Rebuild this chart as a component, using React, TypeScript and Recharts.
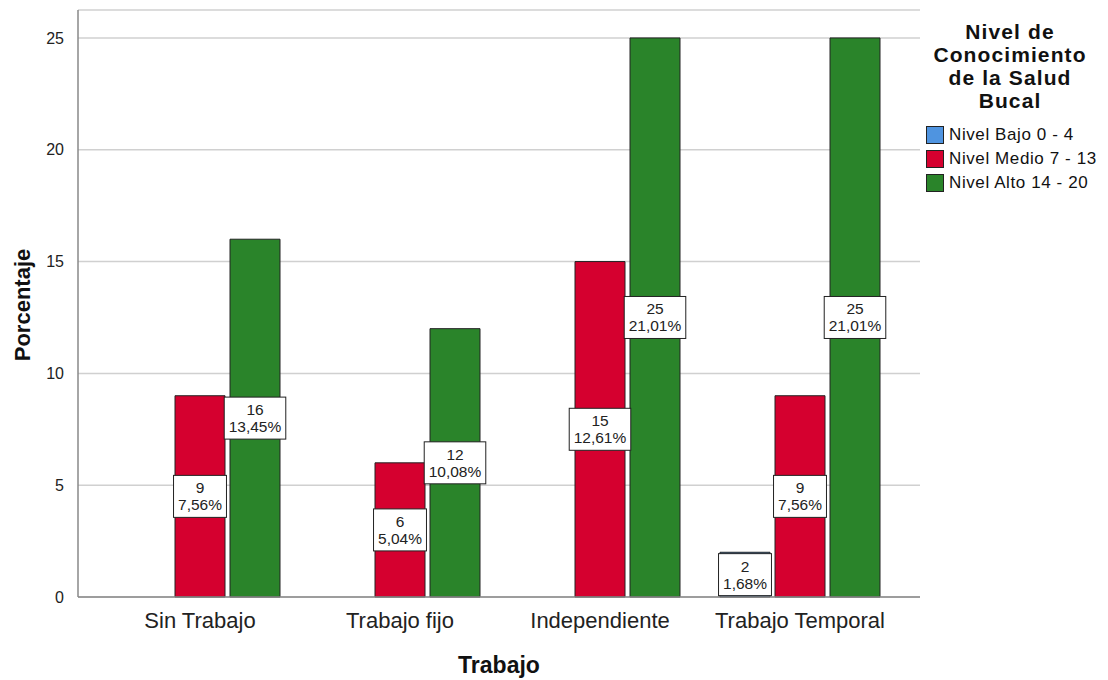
import React from 'react'
import { BarChart, Bar, CartesianGrid, XAxis, YAxis, LabelList, Label } from 'recharts'

const categorias = ['Sin Trabajo', 'Trabajo fijo', 'Independiente', 'Trabajo Temporal']
const bajo = [null, null, null, 2]
const medio = [9, 6, 15, 9]
const alto = [16, 12, 25, 25]
const bajoPct = ['', '', '', '1,68%']
const medioPct = ['7,56%', '5,04%', '12,61%', '7,56%']
const altoPct = ['13,45%', '10,08%', '21,01%', '21,01%']
const yTicks = [0, 5, 10, 15, 20, 25]

const series = [
  { key: 'bajo', name: 'Nivel Bajo 0 - 4', color: '#4f94e0', vals: bajo, pct: bajoPct },
  { key: 'medio', name: 'Nivel Medio 7 - 13', color: '#d5002f', vals: medio, pct: medioPct },
  { key: 'alto', name: 'Nivel Alto 14 - 20', color: '#2a842a', vals: alto, pct: altoPct },
]

const data = categorias.map((c, i) => {
  const row: any = { name: c }
  series.forEach((s) => {
    const v = s.vals[i]
    row[s.key] = v
    row[s.key + 'Lbl'] = v == null ? null : `${v}|${s.pct[i]}`
  })
  return row
})

const font = '"Liberation Sans", Arial, sans-serif'

function textW(s: string, size: number) {
  let w = 0
  for (const ch of s) {
    if (ch === ',') w += 0.278
    else if (ch === '%') w += 0.889
    else w += 0.556
  }
  return w * size
}

const boxLabel = (props: any) => {
  const { x, y, width, height, value } = props
  if (value == null || value === '') return null
  const [count, pct] = String(value).split('|')
  const cx = Number(x) + Number(width) / 2
  const cy = Number(y) + Number(height) / 2
  const w = Math.max(textW(pct, 15.5), textW(count, 15.5)) + 9
  const h = 42
  return (
    <g>
      <rect x={cx - w / 2} y={cy - h / 2} width={w} height={h} fill="#fff" stroke="#222" strokeWidth={1} />
      <text x={cx} y={cy - 3} textAnchor="middle" fontSize={15.5} fontFamily={font} fill="#222">{count}</text>
      <text x={cx} y={cy + 14} textAnchor="middle" fontSize={15.5} fontFamily={font} fill="#222">{pct}</text>
    </g>
  )
}

const LegendBox = () => (
  <div style={{ position: 'absolute', left: 920, top: 20, width: 188, fontFamily: font, color: '#111' }}>
    <div style={{ fontWeight: 'bold', fontSize: 21, letterSpacing: 1.1, lineHeight: '23px', textAlign: 'center', width: 180 }}>
      Nivel de<br />Conocimiento<br />de la Salud<br />Bucal
    </div>
    <div style={{ marginTop: 11, marginLeft: 6 }}>
      {series.map((s) => (
        <div key={s.key} style={{ display: 'flex', alignItems: 'center', height: 24 }}>
          <div style={{ width: 16, height: 16, background: s.color, border: '1px solid #222', marginRight: 5 }} />
          <span style={{ fontSize: 17, letterSpacing: 0.6 }}>{s.name}</span>
        </div>
      ))}
    </div>
  </div>
)

export default function App() {
  return (
    <div style={{ position: 'absolute', left: 0, top: 0, width: 1108, height: 680, background: '#fff' }}>
      <BarChart
        width={1108}
        height={680}
        data={data}
        margin={{ top: 10, right: 188, left: 0, bottom: 0 }}
        barSize={50}
        barGap={5}
        barCategoryGap={20}
      >
        <CartesianGrid horizontal vertical={false} stroke="#d0d0d0" strokeWidth={1.5} />
        <XAxis
          dataKey="name"
          height={83}
          padding={{ left: 22, right: 20 }}
          tickLine={false}
          axisLine={{ stroke: '#888', strokeWidth: 1.5 }}
          tick={{ fontSize: 22, fontFamily: font, fill: '#222' }}
          tickMargin={9}
        >
          <Label
            content={() => (
              <text x={499} y={673} textAnchor="middle" fontSize={23} fontWeight="bold" fontFamily={font} fill="#111">Trabajo</text>
            )}
          />
        </XAxis>
        <YAxis
          width={78}
          domain={[0, 26.25]}
          ticks={yTicks}
          tickLine={false}
          axisLine={{ stroke: '#888', strokeWidth: 1.5 }}
          tick={{ fontSize: 16, fontFamily: font, fill: '#222' }}
          tickMargin={8}
        >
          <Label
            content={() => (
              <text x={30} y={305} transform="rotate(-90 30 305)" textAnchor="middle" fontSize={22} fontWeight="bold" fontFamily={font} fill="#111">Porcentaje</text>
            )}
          />
        </YAxis>
        {series.map((s) => (
          <Bar key={s.key} dataKey={s.key} name={s.name} fill={s.color} stroke="#222" strokeWidth={1} isAnimationActive={false}>
            <LabelList dataKey={s.key + 'Lbl'} content={boxLabel} />
          </Bar>
        ))}
      </BarChart>
      <LegendBox />
    </div>
  )
}
